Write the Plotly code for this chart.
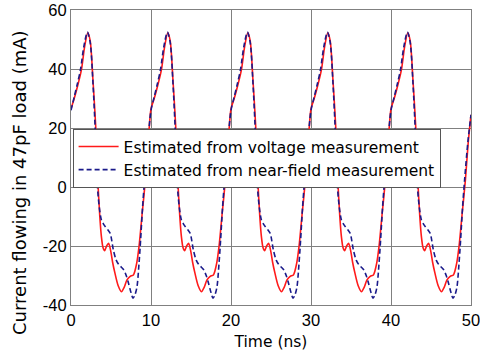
import plotly.graph_objects as go

# Time samples (ns) for the red curve (estimated from voltage measurement)
t_red = [0, 0.4, 0.8, 1.3, 1.7, 2.1, 2.4, 2.75, 3.1, 3.35, 3.6, 3.8, 4, 4.2, 4.45, 4.7, 4.95, 5.2, 5.5, 5.9, 6.3, 6.65, 7, 7.4, 7.8, 8.2, 8.5, 8.9, 9.3, 9.65,
         10, 10.4, 10.8, 11.3, 11.7, 12.1, 12.4, 12.75, 13.1, 13.35, 13.6, 13.8, 14, 14.2, 14.45, 14.7, 14.95, 15.2, 15.5, 15.9, 16.3, 16.65, 17, 17.4, 17.8, 18.2, 18.5, 18.9, 19.3, 19.65,
         20, 20.4, 20.8, 21.3, 21.7, 22.1, 22.4, 22.75, 23.1, 23.35, 23.6, 23.8, 24, 24.2, 24.45, 24.7, 24.95, 25.2, 25.5, 25.9, 26.3, 26.65, 27, 27.4, 27.8, 28.2, 28.5, 28.9, 29.3, 29.65,
         30, 30.4, 30.8, 31.3, 31.7, 32.1, 32.4, 32.75, 33.1, 33.35, 33.6, 33.8, 34, 34.2, 34.45, 34.7, 34.95, 35.2, 35.5, 35.9, 36.3, 36.65, 37, 37.4, 37.8, 38.2, 38.5, 38.9, 39.3, 39.65,
         40, 40.4, 40.8, 41.3, 41.7, 42.1, 42.4, 42.75, 43.1, 43.35, 43.6, 43.8, 44, 44.2, 44.45, 44.7, 44.95, 45.2, 45.5, 45.9, 46.3, 46.65, 47, 47.4, 47.8, 48.2, 48.5, 48.9, 49.3, 49.65,
         50]
i_red = [26.5, 30, 34, 39.7, 47.5, 52.3, 49.5, 36, 20, 2.4, -10, -16.8, -20.5, -21.6, -20, -19.1, -21.5, -25.5, -29.3, -33.5, -35.5, -34, -31.5, -30.3, -29.8, -26, -20.2, -8.9, 2.4, 15,
         26.5, 30, 34, 39.7, 47.5, 52.3, 49.5, 36, 20, 2.4, -10, -16.8, -20.5, -21.6, -20, -19.1, -21.5, -25.5, -29.3, -33.5, -35.5, -34, -31.5, -30.3, -29.8, -26, -20.2, -8.9, 2.4, 15,
         26.5, 30, 34, 39.7, 47.5, 52.3, 49.5, 36, 20, 2.4, -10, -16.8, -20.5, -21.6, -20, -19.1, -21.5, -25.5, -29.3, -33.5, -35.5, -34, -31.5, -30.3, -29.8, -26, -20.2, -8.9, 2.4, 15,
         26.5, 30, 34, 39.7, 47.5, 52.3, 49.5, 36, 20, 2.4, -10, -16.8, -20.5, -21.6, -20, -19.1, -21.5, -25.5, -29.3, -33.5, -35.5, -34, -31.5, -30.3, -29.8, -26, -20.2, -8.9, 2.4, 15,
         26.5, 30, 34, 39.7, 47.5, 52.3, 49.5, 36, 20, 2.4, -10, -16.8, -20.5, -21.6, -20, -19.1, -21.5, -25.5, -29.3, -33.5, -35.5, -34, -31.5, -30.3, -29.8, -26, -20.2, -8.9, 2.4, 15,
         24.5]

# Time samples (ns) for the blue dashed curve (estimated from near-field measurement)
t_blue = [0, 0.4, 0.8, 1.2, 1.6, 2.05, 2.4, 2.75, 3.05, 3.25, 3.5, 3.8, 4.05, 4.3, 4.6, 4.9, 5.3, 5.65, 6, 6.3, 6.6, 6.9, 7.2, 7.5, 7.75, 8, 8.25, 8.5, 8.7, 8.95, 9.2, 9.6,
          10, 10.4, 10.8, 11.2, 11.6, 12.05, 12.4, 12.75, 13.05, 13.25, 13.5, 13.8, 14.05, 14.3, 14.6, 14.9, 15.3, 15.65, 16, 16.3, 16.6, 16.9, 17.2, 17.5, 17.75, 18, 18.25, 18.5, 18.7, 18.95, 19.2, 19.6,
          20, 20.4, 20.8, 21.2, 21.6, 22.05, 22.4, 22.75, 23.05, 23.25, 23.5, 23.8, 24.05, 24.3, 24.6, 24.9, 25.3, 25.65, 26, 26.3, 26.6, 26.9, 27.2, 27.5, 27.75, 28, 28.25, 28.5, 28.7, 28.95, 29.2, 29.6,
          30, 30.4, 30.8, 31.2, 31.6, 32.05, 32.4, 32.75, 33.05, 33.25, 33.5, 33.8, 34.05, 34.3, 34.6, 34.9, 35.3, 35.65, 36, 36.3, 36.6, 36.9, 37.2, 37.5, 37.75, 38, 38.25, 38.5, 38.7, 38.95, 39.2, 39.6,
          40, 40.4, 40.8, 41.2, 41.6, 42.05, 42.4, 42.75, 43.05, 43.25, 43.5, 43.8, 44.05, 44.3, 44.6, 44.9, 45.3, 45.65, 46, 46.3, 46.6, 46.9, 47.2, 47.5, 47.75, 48, 48.25, 48.5, 48.7, 48.95, 49.2, 49.6,
          50]
i_blue = [26, 30.5, 35, 40, 47.5, 52.5, 49, 35, 18, 2.4, -6, -11.2, -12.5, -13.5, -14.5, -15.7, -21.4, -24.8, -26.4, -27.2, -28.1, -30, -32.7, -35.8, -37.7, -36.5, -33.8, -26, -18, -6.7, 2.4, 15,
          26, 30.5, 35, 40, 47.5, 52.5, 49, 35, 18, 2.4, -6, -11.2, -12.5, -13.5, -14.5, -15.7, -21.4, -24.8, -26.4, -27.2, -28.1, -30, -32.7, -35.8, -37.7, -36.5, -33.8, -26, -18, -6.7, 2.4, 15,
          26, 30.5, 35, 40, 47.5, 52.5, 49, 35, 18, 2.4, -6, -11.2, -12.5, -13.5, -14.5, -15.7, -21.4, -24.8, -26.4, -27.2, -28.1, -30, -32.7, -35.8, -37.7, -36.5, -33.8, -26, -18, -6.7, 2.4, 15,
          26, 30.5, 35, 40, 47.5, 52.5, 49, 35, 18, 2.4, -6, -11.2, -12.5, -13.5, -14.5, -15.7, -21.4, -24.8, -26.4, -27.2, -28.1, -30, -32.7, -35.8, -37.7, -36.5, -33.8, -26, -18, -6.7, 2.4, 15,
          26, 30.5, 35, 40, 47.5, 52.5, 49, 35, 18, 2.4, -6, -11.2, -12.5, -13.5, -14.5, -15.7, -21.4, -24.8, -26.4, -27.2, -28.1, -30, -32.7, -35.8, -37.7, -36.5, -33.8, -26, -18, -6.7, 2.4, 15,
          24.5]

x_ticks = [0, 10, 20, 30, 40, 50]
y_ticks = [-40, -20, 0, 20, 40, 60]
series_names = ["Estimated from voltage measurement", "Estimated from near-field measurement"]

TXT_FONT = "DejaVu Sans, sans-serif"
TICK_FONT = "Liberation Sans, Arial, sans-serif"

fig = go.Figure()
fig.add_trace(go.Scatter(
    x=t_red, y=i_red, mode="lines", name=series_names[0],
    line=dict(color="#ff1a1a", width=1.6, shape="spline", smoothing=0.8)))
fig.add_trace(go.Scatter(
    x=t_blue, y=i_blue, mode="lines", name=series_names[1],
    line=dict(color="#1a1a8a", width=1.6, dash="5px,3px", shape="spline", smoothing=0.8)))

axis_common = dict(showgrid=True, gridcolor="#808080", gridwidth=1,
                   showline=True, linecolor="#808080", linewidth=1, mirror=True,
                   zeroline=False, automargin=False, ticklabeloverflow="allow",
                   tickfont=dict(family=TICK_FONT, size=16.5, color="black"))

fig.update_layout(
    width=480, height=358,
    margin=dict(l=71, r=9, t=10, b=53, autoexpand=False),
    paper_bgcolor="white", plot_bgcolor="white",
    font=dict(family=TXT_FONT, size=15.5, color="black"),
    showlegend=True,
    legend=dict(x=0.004, y=0.597, xanchor="left", yanchor="top",
                bgcolor="white", bordercolor="#555555", borderwidth=1,
                font=dict(family=TXT_FONT, size=15.5, color="black"),
                tracegroupgap=0, itemwidth=40),
    xaxis=dict(range=[0, 50], tickvals=x_ticks, ticktext=[str(v) for v in x_ticks], ticks="",
               title=dict(text="Time (ns)", font=dict(family=TXT_FONT, size=15.5), standoff=8),
               **axis_common),
    yaxis=dict(range=[-40, 60], tickvals=y_ticks, ticktext=[str(v) for v in y_ticks],
               ticks="inside", ticklen=0, tickwidth=0, **axis_common),
    annotations=[dict(text="Current flowing in 47pF load (mA)", xref="paper", yref="paper",
                      x=-0.1275, y=0.4136, xanchor="center", yanchor="middle",
                      textangle=-90, showarrow=False, font=dict(family=TXT_FONT, size=18))],
)

fig.write_html("out.html")
